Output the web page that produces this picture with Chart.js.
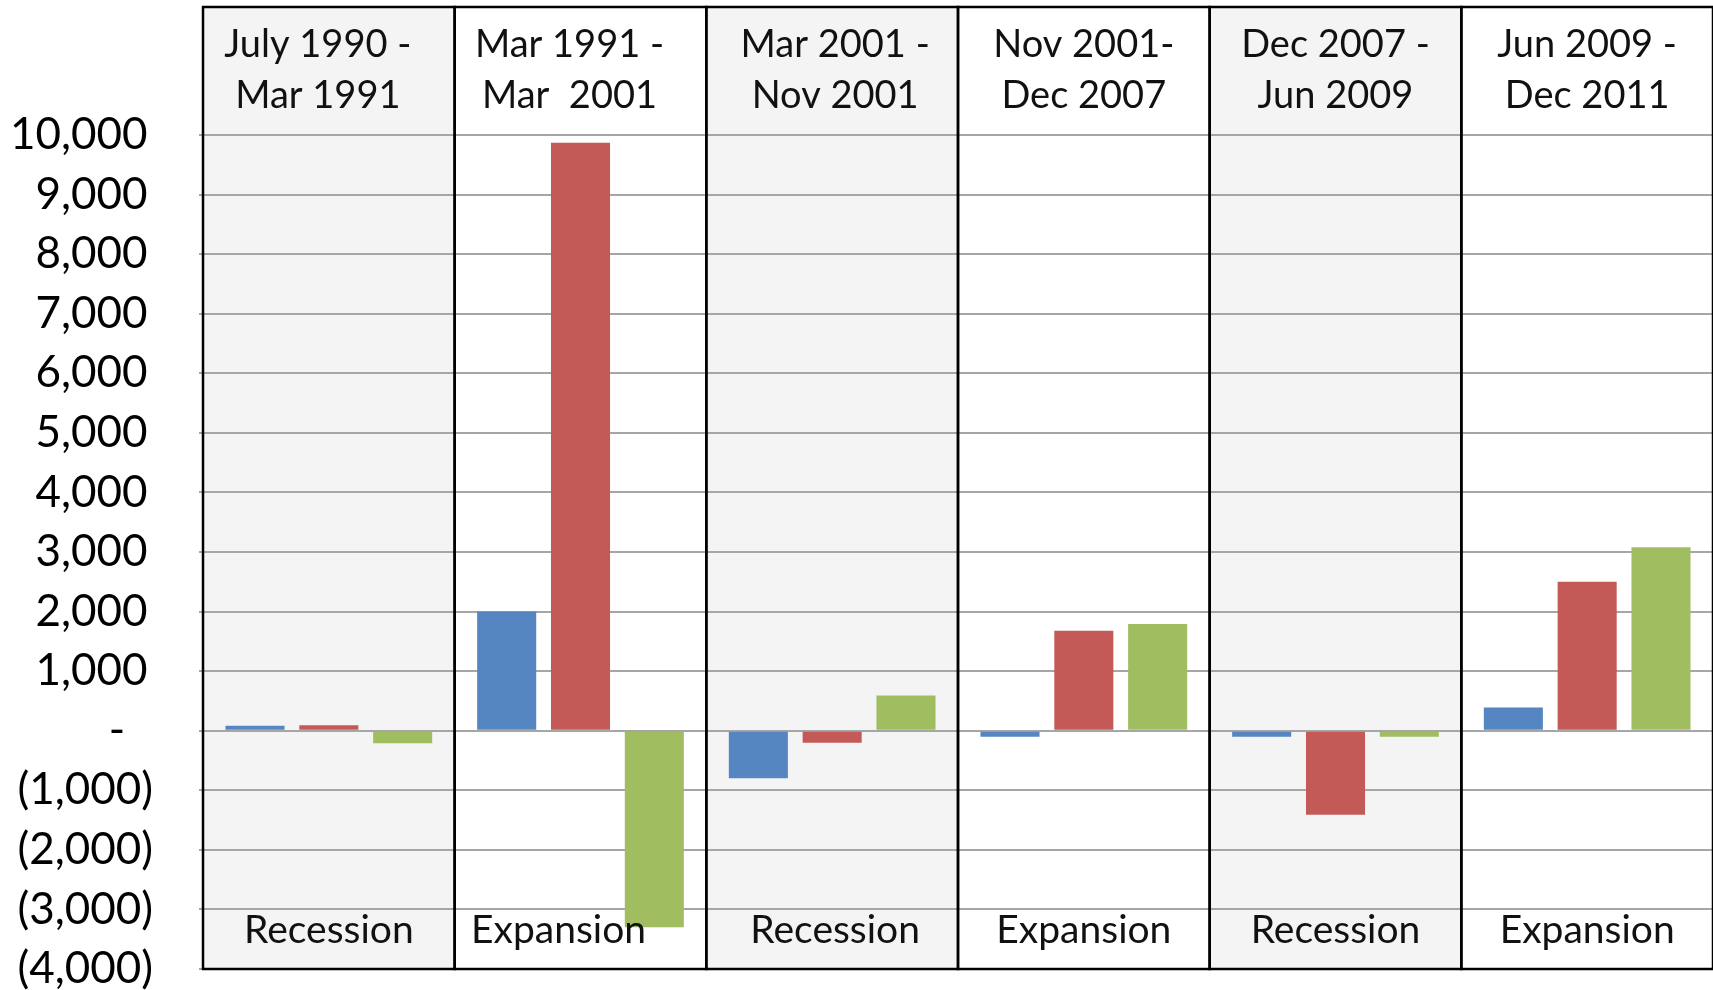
<!DOCTYPE html>
<html>
<head>
<meta charset="utf-8">
<title>Recession / Expansion</title>
<script src="https://cdn.jsdelivr.net/npm/chart.js@4.4.1/dist/chart.umd.min.js"></script>
<style>
  html, body { margin: 0; padding: 0; background: #fff; }
  #chart { display: block; }
</style>
</head>
<body>
<canvas id="chart" width="1713" height="990"></canvas>
<script>
// Periods (header text of each panel, two lines)
const periods = [
  ['July 1990 -', 'Mar 1991'],
  ['Mar 1991 -', 'Mar  2001'],
  ['Mar 2001 -', 'Nov 2001'],
  ['Nov 2001-', 'Dec 2007'],
  ['Dec 2007 -', 'Jun 2009'],
  ['Jun 2009 -', 'Dec 2011']
];
const phases = ['Recession', 'Expansion', 'Recession', 'Expansion', 'Recession', 'Expansion'];

// Series values
const seriesBlue = [85, 2000, -800, -100, -100, 390];
const seriesRed = [90, 9870, -200, 1680, -1410, 2500];
const seriesGreen = [-210, -3300, 590, 1790, -100, 3080];

// Y axis tick labels, bottom to top
const yTickLabels = ['(4,000)', '(3,000)', '(2,000)', '(1,000)', '-  \u2009',
  '1,000\u2009', '2,000\u2009', '3,000\u2009', '4,000\u2009', '5,000\u2009', '6,000\u2009',
  '7,000\u2009', '8,000\u2009', '9,000\u2009', '10,000\u2009'];

const FONT = 'Lato';

// Panels behind/around each period (gray for recessions)
const panelPlugin = {
  id: 'panels',
  beforeDraw(chart) {
    const { ctx, chartArea, scales: { x } } = chart;
    const w = x.width / periods.length;
    ctx.save();
    ctx.fillStyle = '#fff';
    ctx.fillRect(0, 0, chart.width, chart.height);
    phases.forEach((p, i) => {
      const left = x.getPixelForValue(i) - w / 2;
      ctx.fillStyle = p === 'Recession' ? '#f4f4f4' : '#ffffff';
      ctx.fillRect(left, 7, w, chartArea.bottom - 7);
    });
    ctx.restore();
  },
  afterDatasetsDraw(chart, args, opts) {
    const { ctx, chartArea, scales: { x } } = chart;
    const w = x.width / periods.length;
    ctx.save();
    ctx.strokeStyle = '#000';
    ctx.lineWidth = 2.5;
    periods.forEach((lines, i) => {
      const cx = x.getPixelForValue(i);
      ctx.strokeRect(cx - w / 2, 7, w, chartArea.bottom - 7);
    });
    ctx.fillStyle = '#111';
    ctx.textAlign = 'center';
    ctx.textBaseline = 'alphabetic';
    periods.forEach((lines, i) => {
      const cx = x.getPixelForValue(i);
      ctx.font = '38px ' + FONT;
      ctx.fillText(lines[0], cx + opts.headShift[i], chartArea.top - 78);
      ctx.fillText(lines[1], cx + opts.headShift[i], chartArea.top - 27);
      ctx.font = '39px ' + FONT;
      ctx.fillText(phases[i], cx + opts.footShift[i], chartArea.bottom - 26);
    });
    ctx.restore();
  }
};

const ctx = document.getElementById('chart').getContext('2d');
const chart = new Chart(ctx, {
  type: 'bar',
  data: {
    labels: periods.map(p => p.join(' ')),
    datasets: [
      { label: 'Series 1', data: seriesBlue, backgroundColor: '#5686c1' },
      { label: 'Series 2', data: seriesRed, backgroundColor: '#c45a57' },
      { label: 'Series 3', data: seriesGreen, backgroundColor: '#a0bd60' }
    ]
  },
  options: {
    responsive: false,
    devicePixelRatio: 1,
    animation: false,
    categoryPercentage: 0.88,
    barPercentage: 0.8,
    layout: { padding: { top: 135, bottom: 21, left: 0, right: -3 } },
    plugins: {
      legend: { display: false },
      tooltip: { enabled: false },
      panels: {
        headShift: [-11, -11, 3, 0, 0, 0],
        footShift: [0, -22, 3, 0, 0, 0]
      }
    },
    scales: {
      x: { display: false },
      y: {
        min: -4000,
        max: 10000,
        afterFit(scale) {
          scale.width = 203;
          scale.paddingTop = 0;
          scale.paddingBottom = 0;
        },
        border: { display: false },
        grid: {
          color: '#a6a6a6',
          lineWidth: 2,
          tickLength: 4
        },
        ticks: {
          stepSize: 1000,
          padding: 46,
          color: '#000',
          font: { family: FONT, size: 44, lineHeight: 1 },
          callback: (value, index) => yTickLabels[index]
        }
      }
    }
  },
  plugins: [panelPlugin]
});
</script>
</body>
</html>
